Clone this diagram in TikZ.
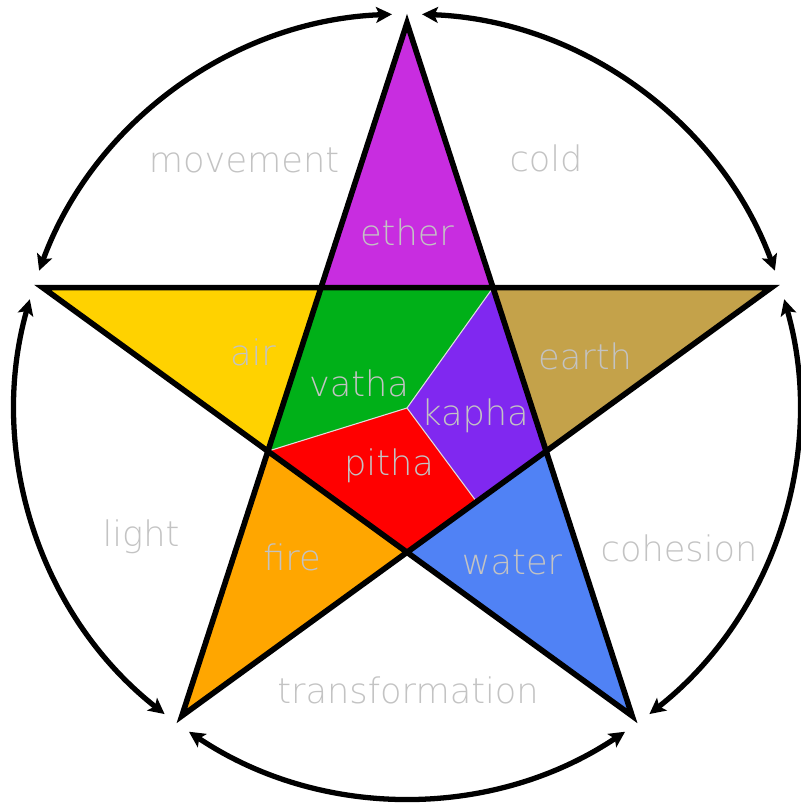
\documentclass[tikz,border=0pt]{standalone}
\usepackage{fontspec}
\setmainfont{DejaVu Sans ExtraLight}
\usetikzlibrary{calc,arrows.meta}
\definecolor{etherc}{RGB}{200,45,224}
\definecolor{airc}{RGB}{255,210,0}
\definecolor{earthc}{RGB}{196,162,74}
\definecolor{firec}{RGB}{255,166,0}
\definecolor{waterc}{RGB}{80,130,245}
\definecolor{vathac}{RGB}{0,176,24}
\definecolor{kaphac}{RGB}{128,40,240}
\definecolor{pithac}{RGB}{255,0,0}
\definecolor{txtc}{RGB}{195,195,195}
\tikzset{
  starline/.style={line width=1.6pt, line join=miter, draw=black},
  divline/.style={line width=0.3pt, draw=white!75!gray},
  cycarrow/.style={line width=1.5pt, {Stealth[length=4.5pt,width=4.5pt,inset=1pt]}-{Stealth[length=4.5pt,width=4.5pt,inset=1pt]}},
  lbl/.style={text=txtc, inner sep=0pt, font=\fontsize{10}{12}\selectfont}
}
\begin{document}
\begin{tikzpicture}[x=0.01cm,y=-0.01cm]
\useasboundingbox (0,0) rectangle (800,804);
\fill[white] (0,0) rectangle (800,804);
\coordinate (c) at (407,406);
\coordinate (T) at ($(c)+(-90:383)$);
\coordinate (R) at ($(c)+(-18:383)$);
\coordinate (BR) at ($(c)+(54:383)$);
\coordinate (BL) at ($(c)+(126:383)$);
\coordinate (L) at ($(c)+(198:383)$);
\coordinate (iTL) at ($(c)+(-126:146.3)$);
\coordinate (iTR) at ($(c)+(-54:146.3)$);
\coordinate (iR) at ($(c)+(18:146.3)$);
\coordinate (iB) at ($(c)+(90:146.3)$);
\coordinate (iL) at ($(c)+(162:146.3)$);
\coordinate (mid) at ($(iR)!0.5!(iB)$);
\coordinate (ctr) at (407,408);
% element triangles
\fill[etherc] (T) -- (iTR) -- (iTL) -- cycle;
\fill[earthc] (R) -- (iR) -- (iTR) -- cycle;
\fill[waterc] (BR) -- (iB) -- (iR) -- cycle;
\fill[firec] (BL) -- (iL) -- (iB) -- cycle;
\fill[airc] (L) -- (iTL) -- (iL) -- cycle;
% doshas
\fill[vathac] (iTL) -- (iTR) -- (ctr) -- (iL) -- cycle;
\fill[kaphac] (iTR) -- (iR) -- (mid) -- (ctr) -- cycle;
\fill[pithac] (iL) -- (ctr) -- (mid) -- (iB) -- cycle;
\draw[divline] (iTR) -- (ctr) -- (iL);
\draw[divline] (ctr) -- (mid);
% star
\draw[starline] (T) -- (BL) -- (R) -- (L) -- (BR) -- cycle;
% cycle arrows
\coordinate (a1) at ($(c)+(-87.8:392)$);
\coordinate (a2) at ($(c)+(-15.8:392)$);
\coordinate (a3) at ($(c)+(56.2:392)$);
\coordinate (a4) at ($(c)+(128.2:392)$);
\coordinate (a5) at ($(c)+(200.2:392)$);
\draw[cycarrow] (a1) arc[start angle=-87.8, end angle=-20.2, radius=392];
\draw[cycarrow] (a2) arc[start angle=-15.8, end angle=51.8, radius=392];
\draw[cycarrow] (a3) arc[start angle=56.2, end angle=123.8, radius=392];
\draw[cycarrow] (a4) arc[start angle=128.2, end angle=195.8, radius=392];
\draw[cycarrow] (a5) arc[start angle=200.2, end angle=267.8, radius=392];
% labels
\node[lbl] (nmov) at (244,160) {movement};
\node[lbl] (ncold) at (546,158) {cold};
\node[lbl] (nlight) at (141,537) {light};
\node[lbl] (ncoh) at (679,548) {cohesion};
\node[lbl] (ntrans) at (408,690) {transformation};
\node[lbl] (nether) at (407,232) {ether};
\node[lbl] (nair) at (253,352) {air};
\node[lbl] (nearth) at (585,356) {earth};
\node[lbl] (nfire) at (292,557) {fire};
\node[lbl] (nwater) at (512,562) {water};
\node[lbl] (nvatha) at (359,383) {vatha};
\node[lbl] (nkapha) at (475,416) {kapha};
\node[lbl] (npitha) at (389,466) {pitha};
\end{tikzpicture}
\end{document}
